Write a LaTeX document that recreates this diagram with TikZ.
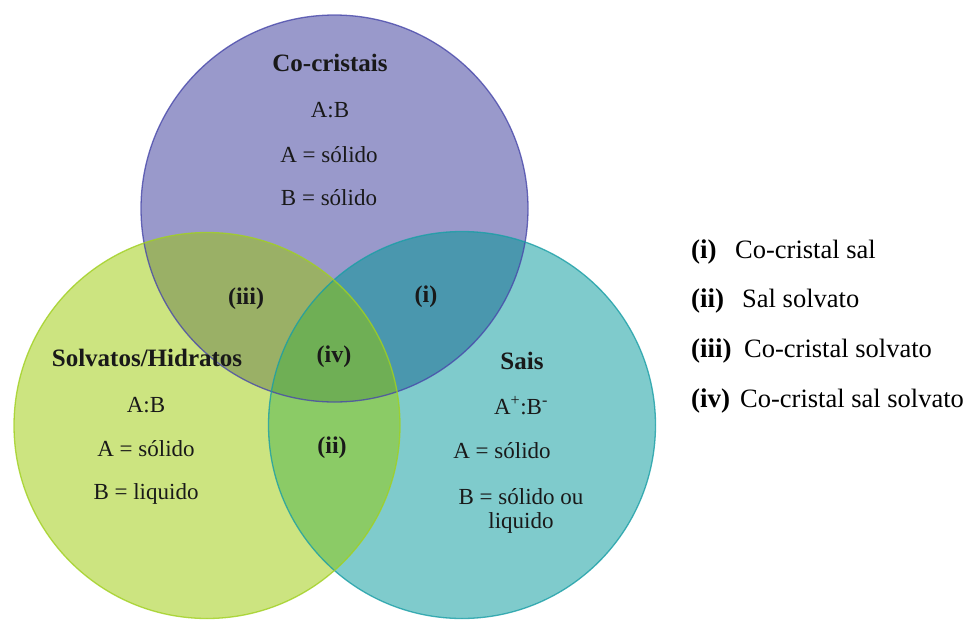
\documentclass[tikz,border=0pt]{standalone}
\usepackage{fontspec}
\setmainfont{Liberation Serif}
\definecolor{pfill}{RGB}{153,153,203}
\definecolor{tfill}{RGB}{127,203,204}
\definecolor{yfill}{RGB}{204,228,128}
\definecolor{pyfill}{RGB}{154,176,102}
\definecolor{ptfill}{RGB}{74,151,174}
\definecolor{ytfill}{RGB}{139,203,102}
\definecolor{allfill}{RGB}{111,175,85}
\definecolor{pline}{RGB}{72,72,170}
\definecolor{yline}{RGB}{160,208,32}
\definecolor{tline}{RGB}{26,158,166}
\begin{document}
\begin{tikzpicture}[x=1pt,y=-1pt,
  lbl/.style={font=\fontsize{23}{27}\selectfont, inner sep=0pt, text=black!90},
  ttl/.style={font=\fontsize{25}{29}\selectfont\bfseries, inner sep=0pt, text=black!90},
  reg/.style={font=\fontsize{24}{28}\selectfont\bfseries, inner sep=0pt, text=black!90},
  legl/.style={font=\fontsize{27}{31}\selectfont\bfseries, inner sep=0pt, anchor=base west},
  legt/.style={font=\fontsize{26.5}{31}\selectfont, inner sep=0pt, anchor=base west}]
\useasboundingbox (0,0) rectangle (977,619);
\def\pc{(334.5,208.5) circle[radius=193.5]}
\def\yc{(207,425.5) circle[radius=193]}
\def\tc{(462,425) circle[radius=193.5]}
% base fills
\fill[pfill] \pc;
\fill[tfill] \tc;
\fill[yfill] \yc;
% pairwise overlaps
\begin{scope}\clip \pc; \fill[pyfill] \yc; \end{scope}
\begin{scope}\clip \pc; \fill[ptfill] \tc; \end{scope}
\begin{scope}\clip \yc; \fill[ytfill] \tc; \end{scope}
\begin{scope}\clip \pc; \clip \yc; \fill[allfill] \tc; \end{scope}
% borders
\draw[pline, line width=1.3pt, opacity=0.8] \pc;
\draw[tline, line width=1.3pt, opacity=0.8] \tc;
\draw[yline, line width=1.3pt, opacity=0.8] \yc;
% top circle text
\node[ttl] (t1) at (330,63) {Co-cristais};
\node[lbl] (t2) at (330,110) {A:B};
\node[lbl] (t3) at (329,155) {A = sólido};
\node[lbl] (t4) at (329,198) {B = sólido};
% left circle text
\node[ttl] (l1) at (147,358) {Solvatos/Hidratos};
\node[lbl] (l2) at (146,405) {A:B};
\node[lbl] (l3) at (146,449) {A = sólido};
\node[lbl] (l4) at (146,494) {B = liquido};
% right circle text
\node[ttl] (r1) at (522,361) {Sais};
\node[lbl] (r2) at (521,406) {A\textsuperscript{+}:B\textsuperscript{-}};
\node[lbl] (r3) at (502,451) {A = sólido};
\node[lbl] (r4) at (521,497) {B = sólido ou};
\node[lbl] (r5) at (521,523) {liquido};
% region labels
\node[reg] (ri) at (426,297) {(i)};
\node[reg] (rii) at (332,448) {(ii)};
\node[reg] (riii) at (246,299) {(iii)};
\node[reg] (riv) at (334,357) {(iv)};
% legend
\node[legl] (g1) at (691,258) {(i)};
\node[legt] (h1) at (735,258) {Co-cristal sal};
\node[legl] (g2) at (691,307) {(ii)};
\node[legt] (h2) at (742,307) {Sal solvato};
\node[legl] (g3) at (691,357) {(iii)};
\node[legt] (h3) at (744,357) {Co-cristal solvato};
\node[legl] (g4) at (691,407) {(iv)};
\node[legt] (h4) at (740,407) {Co-cristal sal solvato};
\end{tikzpicture}
\end{document}
